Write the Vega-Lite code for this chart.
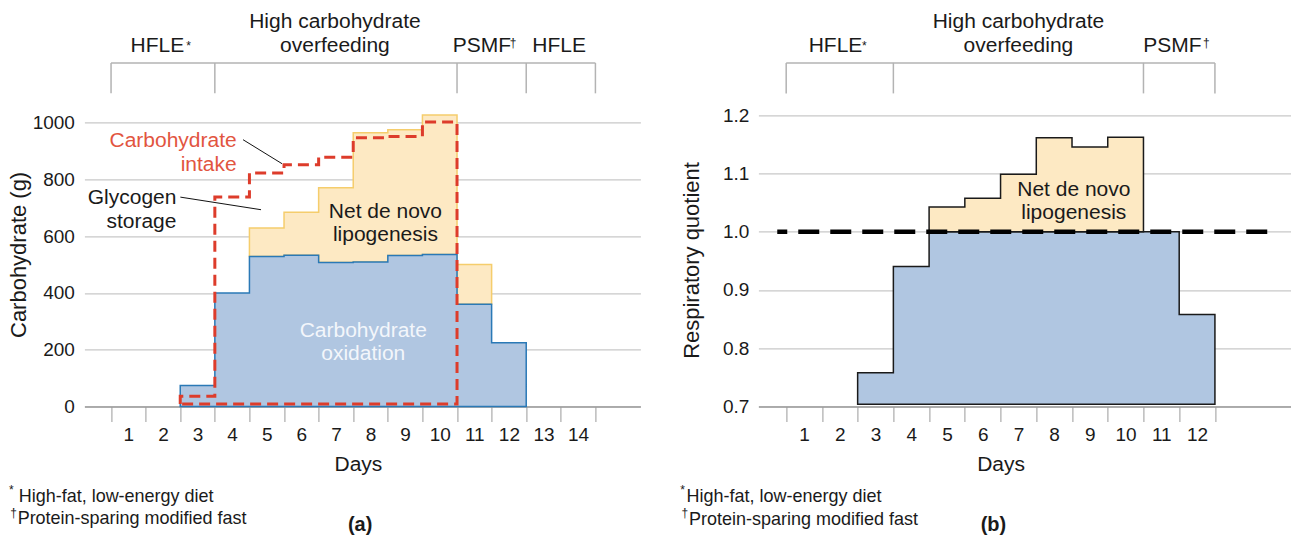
{
  "$schema": "https://vega.github.io/schema/vega-lite/v6.json",
  "autosize": {"type": "pad"},
  "padding": {"left": 7.4, "top": 9.4, "right": 0, "bottom": 0},
  "spacing": 118,
  "bounds": "flush",
  "config": {
    "view": {"stroke": null},
    "font": "Liberation Sans",
    "text": {"font": "Liberation Sans", "color": "#1a1a1a"},
    "axis": {"labelFont": "Liberation Sans", "titleFont": "Liberation Sans", "labelColor": "#1a1a1a", "titleColor": "#1a1a1a", "titleFontWeight": "normal"}
  },
  "datasets": {
    "ox_a": [
      {"x": 2, "y": 74}, {"x": 3, "y": 400}, {"x": 4, "y": 529}, {"x": 5, "y": 533}, {"x": 6, "y": 507},
      {"x": 7, "y": 509}, {"x": 8, "y": 532}, {"x": 9, "y": 536}, {"x": 10, "y": 360}, {"x": 11, "y": 224}, {"x": 12, "y": 224}
    ],
    "dnl_a": [
      {"x": 4, "y": 629, "y2": 529}, {"x": 5, "y": 685, "y2": 533}, {"x": 6, "y": 771, "y2": 507}, {"x": 7, "y": 965, "y2": 509},
      {"x": 8, "y": 976, "y2": 532}, {"x": 9, "y": 1028, "y2": 536}, {"x": 10, "y": 500, "y2": 360}, {"x": 11, "y": 500, "y2": 360}
    ],
    "intake_a": [
      {"o": 1, "x": 2, "y": 8}, {"o": 2, "x": 2, "y": 36}, {"o": 3, "x": 3, "y": 738}, {"o": 4, "x": 4, "y": 823},
      {"o": 5, "x": 5, "y": 852}, {"o": 6, "x": 6, "y": 879}, {"o": 7, "x": 7, "y": 947}, {"o": 8, "x": 8, "y": 952},
      {"o": 9, "x": 9, "y": 1003}, {"o": 10, "x": 10, "y": 8}, {"o": 11, "x": 2, "y": 8}
    ],
    "lead_a": [
      {"x": 3.815, "x2": 4.942, "y": 940.5, "y2": 855.9},
      {"x": 2.003, "x2": 4.335, "y": 738, "y2": 693.6}
    ],
    "brk_a": [
      {"x": 0, "x2": 14, "y": 1211, "y2": 1211},
      {"x": 0, "x2": 0, "y": 1104, "y2": 1211},
      {"x": 3, "x2": 3, "y": 1104, "y2": 1211},
      {"x": 10, "x2": 10, "y": 1104, "y2": 1211},
      {"x": 12, "x2": 12, "y": 1104, "y2": 1211},
      {"x": 14, "x2": 14, "y": 1104, "y2": 1211}
    ],
    "txt_a": [
      {"g": "hdr", "x": 1.34, "y": 1249, "t": "HFLE"},
      {"g": "hdr", "x": 6.47, "y": 1335, "t": "High carbohydrate"},
      {"g": "hdr", "x": 6.47, "y": 1249, "t": "overfeeding"},
      {"g": "hdr", "x": 10.72, "y": 1249, "t": "PSMF"},
      {"g": "hdr", "x": 12.95, "y": 1249, "t": "HFLE"},
      {"g": "sup", "x": 2.24, "y": 1257, "t": "*"},
      {"g": "sup", "x": 11.62, "y": 1267, "t": "†"},
      {"g": "sup", "x": -2.88, "y": -310, "t": "*"},
      {"g": "sup", "x": -2.82, "y": -391, "t": "†"},
      {"g": "fn", "x": -2.67, "y": -338.5, "t": "High-fat, low-energy diet"},
      {"g": "fn", "x": -2.70, "y": -416, "t": "Protein-sparing modified fast"},
      {"g": "lab", "x": 7.2, "y": -441, "t": "(a)"},
      {"g": "red", "x": 3.63, "y": 914, "t": "Carbohydrate"},
      {"g": "red", "x": 3.63, "y": 830, "t": "intake"},
      {"g": "blk", "x": 1.89, "y": 712, "t": "Glycogen"},
      {"g": "blk", "x": 1.89, "y": 630, "t": "storage"},
      {"g": "ctr", "x": 7.93, "y": 665, "t": "Net de novo"},
      {"g": "ctr", "x": 7.93, "y": 583, "t": "lipogenesis"},
      {"g": "wht", "x": 7.29, "y": 245, "t": "Carbohydrate"},
      {"g": "wht", "x": 7.29, "y": 162, "t": "oxidation"}
    ],
    "ox_b": [
      {"x": 2, "y": 0.758}, {"x": 3, "y": 0.9405}, {"x": 4, "y": 1.0}, {"x": 5, "y": 1.0}, {"x": 6, "y": 1.0},
      {"x": 7, "y": 1.0}, {"x": 8, "y": 1.0}, {"x": 9, "y": 1.0}, {"x": 10, "y": 1.0}, {"x": 11, "y": 0.858}, {"x": 12, "y": 0.858}
    ],
    "dnl_b": [
      {"x": 4, "y": 1.0425, "y2": 1.0}, {"x": 5, "y": 1.0575, "y2": 1.0}, {"x": 6, "y": 1.099, "y2": 1.0},
      {"x": 7, "y": 1.1615, "y2": 1.0}, {"x": 8, "y": 1.1455, "y2": 1.0}, {"x": 9, "y": 1.1625, "y2": 1.0}, {"x": 10, "y": 1.1625, "y2": 1.0}
    ],
    "ref_b": [{"x": -0.25, "x2": 13.5, "y": 1.0}],
    "brk_b": [
      {"x": 0, "x2": 12, "y": 1.2901, "y2": 1.2901},
      {"x": 0, "x2": 0, "y": 1.2377, "y2": 1.2901},
      {"x": 3, "x2": 3, "y": 1.2377, "y2": 1.2901},
      {"x": 10, "x2": 10, "y": 1.2377, "y2": 1.2901},
      {"x": 12, "x2": 12, "y": 1.2377, "y2": 1.2901}
    ],
    "txt_b": [
      {"g": "hdr", "x": 1.38, "y": 1.3087, "t": "HFLE"},
      {"g": "hdr", "x": 6.5, "y": 1.3502, "t": "High carbohydrate"},
      {"g": "hdr", "x": 6.5, "y": 1.3087, "t": "overfeeding"},
      {"g": "hdr", "x": 10.81, "y": 1.3087, "t": "PSMF"},
      {"g": "sup", "x": 2.19, "y": 1.3124, "t": "*"},
      {"g": "sup", "x": 11.76, "y": 1.3171, "t": "†"},
      {"g": "sup", "x": -2.9, "y": 0.5488, "t": "*"},
      {"g": "sup", "x": -2.84, "y": 0.5093, "t": "†"},
      {"g": "fn", "x": -2.787, "y": 0.5351, "t": "High-fat, low-energy diet"},
      {"g": "fn", "x": -2.72, "y": 0.4964, "t": "Protein-sparing modified fast"},
      {"g": "lab", "x": 5.8, "y": 0.4853, "t": "(b)"},
      {"g": "ctr", "x": 8.05, "y": 1.0608, "t": "Net de novo"},
      {"g": "ctr", "x": 8.05, "y": 1.0213, "t": "lipogenesis"}
    ]
  },
  "hconcat": [
    {
      "width": 556,
      "height": 397,
      "encoding": {
        "x": {
          "field": "x", "type": "quantitative",
          "scale": {"domain": [-0.77, 15.3], "nice": false, "zero": false},
          "axis": {
            "values": [0, 0.5, 1, 1.5, 2, 2.5, 3, 3.5, 4, 4.5, 5, 5.5, 6, 6.5, 7, 7.5, 8, 8.5, 9, 9.5, 10, 10.5, 11, 11.5, 12, 12.5, 13, 13.5, 14],
            "title": "Days", "grid": false,
            "domainColor": "#9b9b9b", "domainWidth": 1.5,
            "tickColor": "#ababab", "tickWidth": 1.2, "tickSize": 15,
            "tickOpacity": {"condition": {"test": "datum.value % 1 === 0", "value": 1}, "value": 0},
            "labelExpr": "datum.value % 1 === 0.5 ? format(datum.value + 0.5, 'd') : ''",
            "labelOverlap": false, "labelFlush": false, "labelBound": false,
            "labelPadding": 4, "labelFontSize": 19,
            "titleFontSize": 21, "titleX": 273.5, "titleY": 64, "titleBaseline": "alphabetic"
          }
        },
        "y": {
          "field": "y", "type": "quantitative",
          "scale": {"domain": [0, 1400], "nice": false},
          "axis": {
            "values": [0, 200, 400, 600, 800, 1000], "format": "d",
            "title": "Carbohydrate (g)", "grid": true, "gridColor": "#c8c8c8", "gridWidth": 1.2,
            "domain": false, "ticks": false, "labelPadding": 10, "labelFontSize": 19,
            "titleFontSize": 22, "titleX": -59, "titleY": 245, "titleBaseline": "alphabetic"
          }
        }
      },
      "layer": [
        {"data": {"name": "dnl_a"}, "mark": {"type": "area", "interpolate": "step-after", "fill": "#fde9c3", "stroke": "#f5cd6c", "strokeWidth": 1.5}, "encoding": {"y2": {"field": "y2"}}},
        {"data": {"name": "ox_a"}, "mark": {"type": "area", "interpolate": "step-after", "fill": "#b0c6e1", "stroke": "#2a79b6", "strokeWidth": 1.5}, "encoding": {}},
        {"data": {"name": "intake_a"}, "mark": {"type": "line", "interpolate": "step-after", "stroke": "#dd3c2b", "strokeWidth": 3, "strokeDash": [11, 6]}, "encoding": {"order": {"field": "o", "type": "quantitative"}}},
        {"data": {"name": "lead_a"}, "mark": {"type": "rule", "stroke": "#111111", "strokeWidth": 1}, "encoding": {"x2": {"field": "x2"}, "y2": {"field": "y2"}}},
        {"data": {"name": "brk_a"}, "mark": {"type": "rule", "stroke": "#b3b3b3", "strokeWidth": 1.5}, "encoding": {"x2": {"field": "x2"}, "y2": {"field": "y2"}}},
        {"data": {"name": "txt_a"}, "transform": [{"filter": "datum.g === 'hdr'"}], "mark": {"type": "text", "align": "center", "baseline": "alphabetic", "fontSize": 21}, "encoding": {"text": {"field": "t"}}},
        {"data": {"name": "txt_a"}, "transform": [{"filter": "datum.g === 'sup'"}], "mark": {"type": "text", "align": "center", "baseline": "alphabetic", "fontSize": 12}, "encoding": {"text": {"field": "t"}}},
        {"data": {"name": "txt_a"}, "transform": [{"filter": "datum.g === 'fn'"}], "mark": {"type": "text", "align": "left", "baseline": "alphabetic", "fontSize": 18}, "encoding": {"text": {"field": "t"}}},
        {"data": {"name": "txt_a"}, "transform": [{"filter": "datum.g === 'lab'"}], "mark": {"type": "text", "align": "center", "baseline": "alphabetic", "fontSize": 20, "fontWeight": "bold"}, "encoding": {"text": {"field": "t"}}},
        {"data": {"name": "txt_a"}, "transform": [{"filter": "datum.g === 'red'"}], "mark": {"type": "text", "align": "right", "baseline": "alphabetic", "fontSize": 21, "color": "#e2553f"}, "encoding": {"text": {"field": "t"}}},
        {"data": {"name": "txt_a"}, "transform": [{"filter": "datum.g === 'blk'"}], "mark": {"type": "text", "align": "right", "baseline": "alphabetic", "fontSize": 21}, "encoding": {"text": {"field": "t"}}},
        {"data": {"name": "txt_a"}, "transform": [{"filter": "datum.g === 'ctr'"}], "mark": {"type": "text", "align": "center", "baseline": "alphabetic", "fontSize": 21}, "encoding": {"text": {"field": "t"}}},
        {"data": {"name": "txt_a"}, "transform": [{"filter": "datum.g === 'wht'"}], "mark": {"type": "text", "align": "center", "baseline": "alphabetic", "fontSize": 21, "color": "#f3f6fb"}, "encoding": {"text": {"field": "t"}}}
      ]
    },
    {
      "width": 533,
      "height": 397,
      "encoding": {
        "x": {
          "field": "x", "type": "quantitative",
          "scale": {"domain": [-0.778, 14.14], "nice": false, "zero": false},
          "axis": {
            "values": [0, 0.5, 1, 1.5, 2, 2.5, 3, 3.5, 4, 4.5, 5, 5.5, 6, 6.5, 7, 7.5, 8, 8.5, 9, 9.5, 10, 10.5, 11, 11.5, 12],
            "title": "Days", "grid": false,
            "domainColor": "#9b9b9b", "domainWidth": 1.5,
            "tickColor": "#ababab", "tickWidth": 1.2, "tickSize": 15,
            "tickOpacity": {"condition": {"test": "datum.value % 1 === 0", "value": 1}, "value": 0},
            "labelExpr": "datum.value % 1 === 0.5 ? format(datum.value + 0.5, 'd') : ''",
            "labelOverlap": false, "labelFlush": false, "labelBound": false,
            "labelPadding": 4, "labelFontSize": 19,
            "titleFontSize": 21, "titleX": 242.2, "titleY": 64, "titleBaseline": "alphabetic"
          }
        },
        "y": {
          "field": "y", "type": "quantitative",
          "scale": {"domain": [0.7, 1.382], "nice": false, "zero": false},
          "axis": {
            "values": [0.7, 0.8, 0.9, 1.0, 1.1, 1.2], "format": ".1f",
            "title": "Respiratory quotient", "grid": true, "gridColor": "#c8c8c8", "gridWidth": 1.2,
            "domain": false, "ticks": false, "labelPadding": 9.5, "labelFontSize": 19,
            "titleFontSize": 22, "titleX": -59.8, "titleY": 250.6, "titleBaseline": "alphabetic"
          }
        }
      },
      "layer": [
        {"data": {"name": "ox_b"}, "mark": {"type": "area", "interpolate": "step-after", "fill": "#b0c6e1", "stroke": "#1a1a1a", "strokeWidth": 1.5}, "encoding": {"y2": {"datum": 0.7035}}},
        {"data": {"name": "dnl_b"}, "mark": {"type": "area", "interpolate": "step-after", "fill": "#fde9c3", "stroke": "#1a1a1a", "strokeWidth": 1.5}, "encoding": {"y2": {"field": "y2"}}},
        {"data": {"name": "ref_b"}, "mark": {"type": "rule", "stroke": "#000000", "strokeWidth": 4.5, "strokeDash": [21, 11], "strokeDashOffset": 11}, "encoding": {"x2": {"field": "x2"}}},
        {"data": {"name": "brk_b"}, "mark": {"type": "rule", "stroke": "#b3b3b3", "strokeWidth": 1.5}, "encoding": {"x2": {"field": "x2"}, "y2": {"field": "y2"}}},
        {"data": {"name": "txt_b"}, "transform": [{"filter": "datum.g === 'hdr'"}], "mark": {"type": "text", "align": "center", "baseline": "alphabetic", "fontSize": 21}, "encoding": {"text": {"field": "t"}}},
        {"data": {"name": "txt_b"}, "transform": [{"filter": "datum.g === 'sup'"}], "mark": {"type": "text", "align": "center", "baseline": "alphabetic", "fontSize": 12}, "encoding": {"text": {"field": "t"}}},
        {"data": {"name": "txt_b"}, "transform": [{"filter": "datum.g === 'fn'"}], "mark": {"type": "text", "align": "left", "baseline": "alphabetic", "fontSize": 18}, "encoding": {"text": {"field": "t"}}},
        {"data": {"name": "txt_b"}, "transform": [{"filter": "datum.g === 'lab'"}], "mark": {"type": "text", "align": "center", "baseline": "alphabetic", "fontSize": 20, "fontWeight": "bold"}, "encoding": {"text": {"field": "t"}}},
        {"data": {"name": "txt_b"}, "transform": [{"filter": "datum.g === 'ctr'"}], "mark": {"type": "text", "align": "center", "baseline": "alphabetic", "fontSize": 21}, "encoding": {"text": {"field": "t"}}}
      ]
    }
  ]
}
